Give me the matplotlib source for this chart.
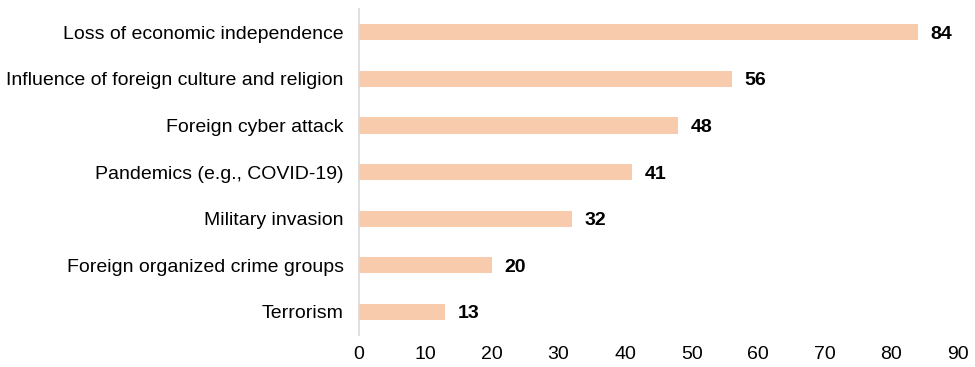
import matplotlib
matplotlib.use("Agg")
import matplotlib.pyplot as plt

# Perceived threats, share of respondents (%)
categories = [
    "Loss of economic independence",
    "Influence of foreign culture and religion",
    "Foreign cyber attack",
    "Pandemics (e.g., COVID-19)",
    "Military invasion",
    "Foreign organized crime groups",
    "Terrorism",
]
values = [84, 56, 48, 41, 32, 20, 13]
xticks = [0, 10, 20, 30, 40, 50, 60, 70, 80, 90]

plt.rcParams["font.family"] = ["Liberation Sans", "DejaVu Sans"]

fig = plt.figure(figsize=(9.75, 3.67), dpi=100)
ax = fig.add_axes([0.368, 0.0864, 0.6146, 0.8896])

y = list(range(len(categories)))[::-1]
ax.barh(y, values, height=0.35, color="#F8CBAD")

for yi, v in zip(y, values):
    ax.text(v + 1.9, yi, f"{v}", va="center_baseline", ha="left",
            fontsize=14, fontweight="bold", color="black")

ax.set_yticks(y)
ax.set_yticklabels(categories, fontsize=14)
ax.set_xticks(xticks)
ax.set_xticklabels([str(t) for t in xticks], fontsize=14)
ax.set_xlim(0, 90)
ax.set_ylim(-0.5, len(categories) - 0.5)

ax.tick_params(axis="y", length=0, pad=11)
ax.tick_params(axis="x", length=0, pad=8)
for side in ["top", "right", "bottom"]:
    ax.spines[side].set_visible(False)
ax.spines["left"].set_color("#D9D9D9")
ax.spines["left"].set_linewidth(1.2)

fig.savefig("out.png", dpi=100)
